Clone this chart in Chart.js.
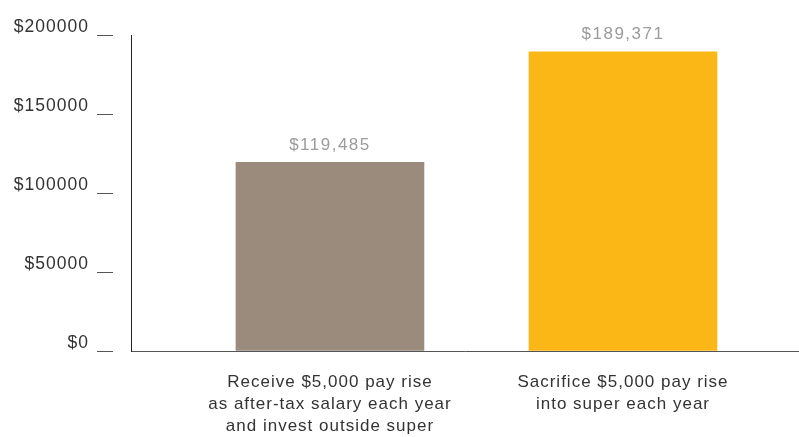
<!DOCTYPE html>
<html>
<head>
<meta charset="utf-8">
<script src="https://cdn.jsdelivr.net/npm/chart.js@4/dist/chart.umd.min.js"></script>
<style>
  html, body { margin: 0; padding: 0; background: #fff; }
  #wrap { width: 799px; height: 437px; }
</style>
</head>
<body>
<div id="wrap"><canvas id="c" width="799" height="437"></canvas></div>
<script>
const categories = [
  ['Receive $5,000 pay rise', 'as after-tax salary each year', 'and invest outside super'],
  ['Sacrifice $5,000 pay rise', 'into super each year']
];
const values = [119485, 189371];
const barColors = ['#9a8b7d', '#fbb716'];
const yTicks = [0, 50000, 100000, 150000, 200000];

const FONT = 'Liberation Sans, Arial, Helvetica, sans-serif';

const spacingPlugin = {
  id: 'spacing',
  beforeUpdate(chart) { chart.ctx.letterSpacing = '1px'; },
  beforeDraw(chart) { chart.ctx.letterSpacing = '1px'; }
};

const valueLabels = {
  id: 'valueLabels',
  afterDatasetsDraw(chart) {
    const ctx = chart.ctx;
    const meta = chart.getDatasetMeta(0);
    ctx.save();
    ctx.letterSpacing = '1.5px';
    ctx.font = '17px ' + FONT;
    ctx.fillStyle = '#9b9b9b';
    ctx.textAlign = 'center';
    ctx.textBaseline = 'middle';
    meta.data.forEach((el, i) => {
      ctx.fillText('$' + values[i].toLocaleString('en-US'), el.x, el.y - 17);
    });
    ctx.restore();
  }
};

new Chart(document.getElementById('c'), {
  type: 'bar',
  data: {
    datasets: [{
      data: values.map((v, i) => ({ x: i, y: v })),
      backgroundColor: barColors,
      borderWidth: 0,
      barThickness: 188
    }]
  },
  options: {
    responsive: false,
    devicePixelRatio: 1,
    animation: false,
    layout: { padding: { top: 35, right: 0, left: 0, bottom: 0 } },
    plugins: { legend: { display: false }, tooltip: { enabled: false } },
    scales: {
      x: {
        type: 'linear',
        offset: false,
        min: -0.679,
        max: 1.6007,
        afterBuildTicks(s) { s.ticks = [{ value: 0 }, { value: 1 }]; },
        afterFit(s) { s.height = 86; },
        grid: { display: false, drawTicks: false, offset: false },
        border: { display: true, color: '#555', width: 1 },
        ticks: {
          padding: 20,
          color: '#333',
          font: { family: FONT, size: 17, lineHeight: 22 / 17 },
          maxRotation: 0,
          autoSkip: false,
          callback(v) { return categories[v] || ''; }
        }
      },
      y: {
        min: 0,
        max: 200000,
        afterBuildTicks(s) { s.ticks = yTicks.map(v => ({ value: v })); },
        afterFit(s) { s.width = 131; },
        grid: {
          display: true,
          drawOnChartArea: false,
          drawTicks: true,
          tickLength: 34,
          tickColor: '#555',
          tickWidth: 1,
          tickBorderDash: [16, 200]
        },
        border: { display: true, color: '#222', width: 1 },
        ticks: {
          padding: 8,
          labelOffset: -8,
          color: '#333',
          font: { family: FONT, size: 17.5 },
          callback(v) { return '$' + v; }
        }
      }
    }
  },
  plugins: [spacingPlugin, valueLabels]
});
</script>
</body>
</html>
